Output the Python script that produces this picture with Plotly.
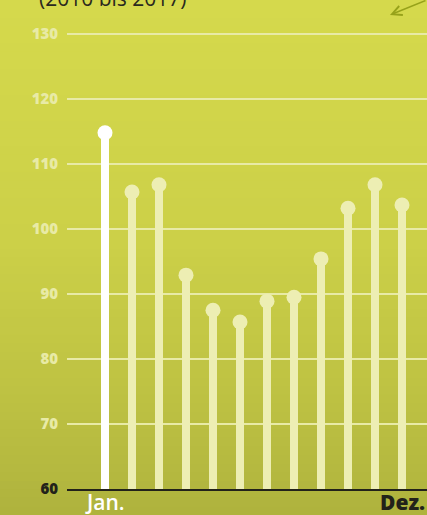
import plotly.graph_objects as go

months = ["Jan.", "Feb.", "Mär.", "Apr.", "Mai", "Jun.", "Jul.", "Aug.", "Sep.", "Okt.", "Nov.", "Dez."]
values = [114.8, 105.7, 106.8, 92.9, 87.5, 85.7, 88.9, 89.5, 95.4, 103.2, 106.8, 103.7]
y_ticks = [60, 70, 80, 90, 100, 110, 120, 130]
x_tick_labels = ["Jan.", "Dez."]
subtitle = "(2010 bis 2017)"

W, H = 427, 515
ML, MB = 67, 26
base = 60

xs = list(range(len(months)))
bar_colors = ["#FFFFFF"] + ["#EDEEB3"] * (len(months) - 1)
bar_widths = [0.30] + [0.26] * (len(months) - 1)

fig = go.Figure()
fig.add_trace(go.Bar(
    x=xs, y=[v - base for v in values], base=base,
    width=bar_widths, marker=dict(color=bar_colors, line=dict(width=0)),
    hoverinfo="skip", showlegend=False,
))
fig.add_trace(go.Scatter(
    x=xs, y=values, mode="markers",
    marker=dict(size=15, color=bar_colors, line=dict(width=0)),
    hoverinfo="skip", showlegend=False,
))

# gradient background
stops = [(0, (0xD5, 0xD9, 0x4C)), (60, (0xD3, 0xD7, 0x4B)), (240, (0xCC, 0xD0, 0x48)),
         (380, (0xBF, 0xC3, 0x43)), (460, (0xB6, 0xBA, 0x40)), (515, (0xAE, 0xB2, 0x3D))]
def col_at(py):
    for (a, ca), (b, cb) in zip(stops[:-1], stops[1:]):
        if a <= py <= b:
            t = (py - a) / (b - a)
            return "rgb(%d,%d,%d)" % tuple(round(ca[i] + (cb[i] - ca[i]) * t) for i in range(3))
    return "rgb(174,178,61)"

ph = H - MB
pw = W - ML
shapes = []
n = 60
for i in range(n):
    y0 = H * i / n
    y1 = H * (i + 1) / n + 1
    shapes.append(dict(
        type="rect", xref="paper", yref="paper", layer="below",
        x0=-ML / pw - 0.01, x1=1.01,
        y0=1 - y1 / ph, y1=1 - y0 / ph,
        fillcolor=col_at((y0 + y1) / 2), line=dict(width=0),
    ))

ppu = (489 - 34) / 70.0
ymax = base + ph / ppu
x0 = -(105 - ML) / 27.0
x1 = x0 + pw / 27.0

light = "#E8EAA6"
dark = "#22221A"
ytext = [("<span style='color:%s'>%d</span>" % (dark if t == base else light, t)) for t in y_ticks]

label_pos = [0, len(months) - 1]
label_styles = [dict(color="#FFFFFF", weight=600), dict(color=dark, weight=800)]

annotations = [
    dict(text=subtitle, xref="paper", yref="paper", x=(37 - ML) / pw, y=1 + 2 / ph,
         xanchor="left", yanchor="middle", showarrow=False,
         font=dict(size=21, color="#2A2A1E", family="Open Sans")),
    dict(text="", xref="paper", yref="paper", x=(390 - ML) / pw, y=1 - 15 / ph,
         ax=38, ay=-17, axref="pixel", ayref="pixel", showarrow=True,
         arrowhead=5, arrowsize=1.2, arrowwidth=1.6, arrowcolor="#97A21A"),
]
for lab, pos, st in zip(x_tick_labels, label_pos, label_styles):
    annotations.append(dict(
        text=lab, xref="x", yref="paper", x=pos, y=-(502 - ph) / ph,
        xanchor="center", yanchor="middle", showarrow=False,
        font=dict(size=21, family="Open Sans", color=st["color"], weight=st["weight"]),
    ))

fig.update_layout(
    width=W, height=H,
    margin=dict(l=ML, r=0, t=0, b=MB, autoexpand=False),
    paper_bgcolor="#C8CC47", plot_bgcolor="rgba(0,0,0,0)",
    shapes=shapes, bargap=0,
    font=dict(family="Open Sans", color=light),
    xaxis=dict(
        range=[x0, x1], showticklabels=False,
        showgrid=False, zeroline=False, showline=True, linecolor=dark, linewidth=2,
        ticks="", automargin=False,
    ),
    yaxis=dict(
        range=[base, ymax], tickmode="array", tickvals=y_ticks, ticktext=ytext,
        showgrid=True, gridcolor=light, gridwidth=2, zeroline=False, showline=False,
        ticks="outside", ticklen=5, tickcolor="rgba(0,0,0,0)", automargin=False,
        tickfont=dict(size=15, family="Open Sans", weight=800),
    ),
    annotations=annotations,
)

fig.write_html("out.html")
